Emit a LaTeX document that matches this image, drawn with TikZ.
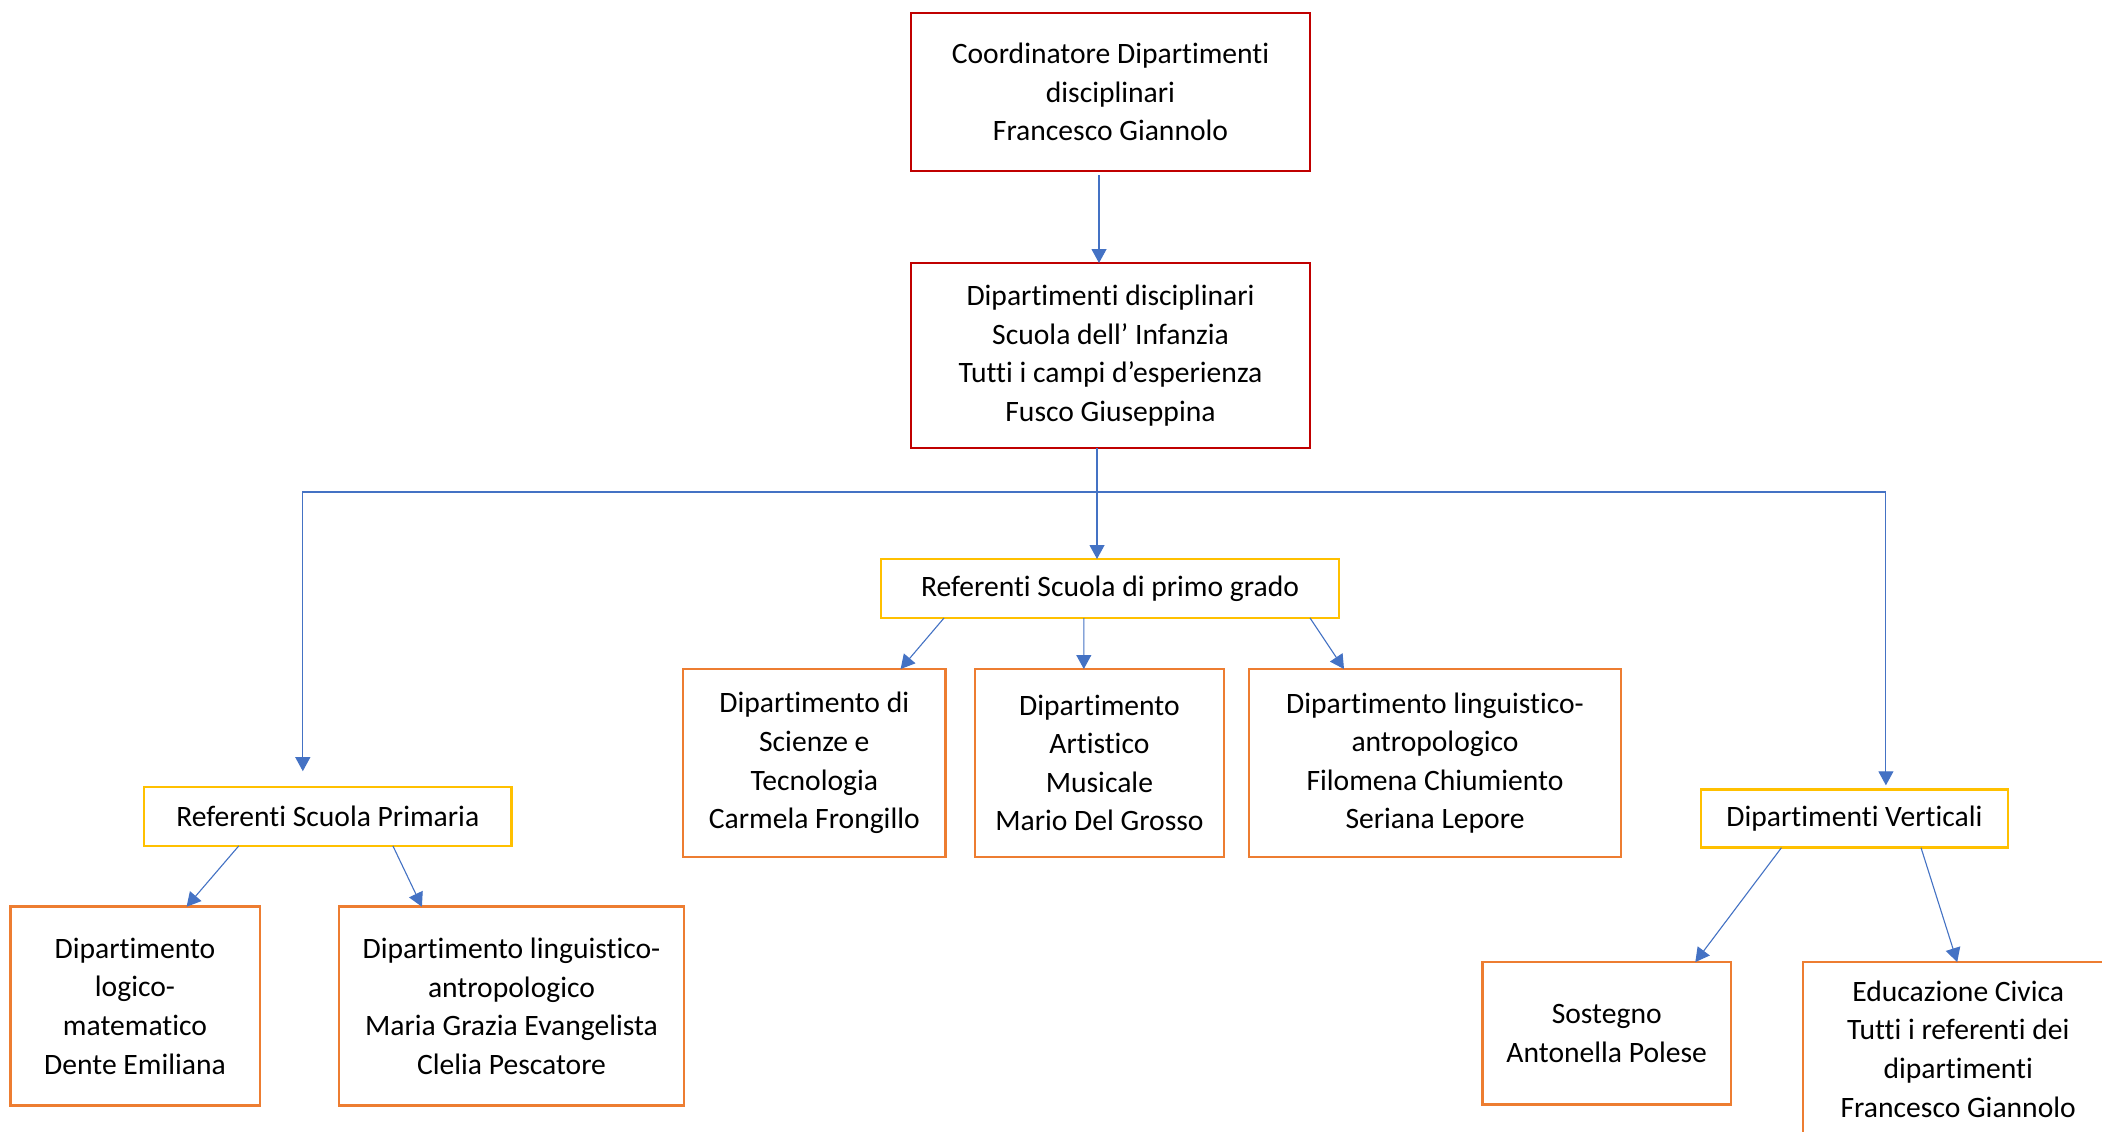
\documentclass[tikz,border=0pt]{standalone}
\usepackage{fontspec}
\setmainfont{Carlito}[Ligatures=NoCommon]
\usetikzlibrary{calc,arrows.meta}
\definecolor{redb}{HTML}{C00000}
\definecolor{yelb}{HTML}{FFC000}
\definecolor{orab}{HTML}{ED7D31}
\definecolor{arrb}{HTML}{4472C4}
\begin{document}
\begin{tikzpicture}[x=0.5pt,y=-0.5pt,
  sz/.style 2 args={minimum width=#1*0.5pt,minimum height=#2*0.5pt},
  box/.style={draw,fill=white,align=center,inner sep=0pt,outer sep=0pt,
    font=\fontsize{14.8pt}{19.3pt}\selectfont},
  redbox/.style={box,draw=redb,line width=1.35pt},
  yelbox/.style={box,draw=yelb,line width=1.25pt},
  orabox/.style={box,draw=orab,line width=1.25pt},
  arr/.style={draw=arrb,line width=0.55pt,-{Triangle[width=7.5pt,length=7pt]},arrb}]
\useasboundingbox (0,0) rectangle (2102,1131);
\clip (0,0) rectangle (2102,1131);
\fill[white] (0,0) rectangle (2102,1131);

\node[redbox,sz={399}{158}] (b1) at (1110.5,92)
  {Coordinatore Dipartimenti\\disciplinari\\Francesco Giannolo};
\node[redbox,sz={399}{185}] (b2) at (1110.5,355.5)
  {Dipartimenti disciplinari\\Scuola dell’ Infanzia\\Tutti i campi d’esperienza\\Fusco Giuseppina};

\node[yelbox,sz={458}{59}] (r1) at (1110,588.5)
  {Referenti Scuola di primo grado};
\node[orabox,sz={262.6}{188}] (a) at (814.3,763)
  {Dipartimento di\\Scienze e\\Tecnologia\\Carmela Frongillo};
\node[orabox,sz={248.7}{188}] (b) at (1099.4,763)
  {Dipartimento\\Artistico\\Musicale\\Mario Del Grosso};
\node[orabox,sz={372}{188}] (c) at (1435,763)
  {Dipartimento linguistico-\\antropologico\\Filomena Chiumiento\\Seriana Lepore};

\node[yelbox,sz={367.6}{58.7}] (rp) at (327.8,816.5)
  {Referenti Scuola Primaria};
\node[orabox,sz={249.5}{199}] (d) at (135,1006.2)
  {Dipartimento\\logico-\\matematico\\Dente Emiliana};
\node[orabox,sz={345}{199}] (e) at (511.5,1006.2)
  {Dipartimento linguistico-\\antropologico\\Maria Grazia Evangelista\\Clelia Pescatore};

\node[yelbox,sz={307.3}{58.4}] (dv) at (1854.4,818.5)
  {Dipartimenti Verticali};
\node[orabox,sz={248.6}{142.3}] (s) at (1606.7,1033.2)
  {Sostegno\\Antonella Polese};
\node[orabox,sz={310}{174}] (ec) at (1958.2,1049)
  {Educazione Civica\\Tutti i referenti dei\\dipartimenti\\Francesco Giannolo};

% connectors
\draw[arr] ($(b1.south)+(-11.5,4)$) -- ($(b2.north)+(-11.5,0)$);
\coordinate (j) at (1097,492);
\draw[arr] (b2.south -| j) -- (r1.north -| j);
\draw[arr] (j) -| ($(rp.north)+(-25,-16)$);
\draw[arr] (j) -| ($(dv.north)+(31.5,-4)$);

\draw[arr] ($(r1.south)+(-166,0)$) -- ($(a.north)+(86.3,0)$);
\draw[arr] ($(r1.south)+(-26.2,0)$) -- ($(b.north)+(-15.6,0)$);
\draw[arr] ($(r1.south)+(200,0)$) -- ($(c.north)+(-91,0)$);

\draw[arr] ($(rp.south)+(-89,0)$) -- ($(d.north)+(51.6,0)$);
\draw[arr] ($(rp.south)+(65.1,0)$) -- ($(e.north)+(-89.6,0)$);

\draw[arr] ($(dv.south)+(-73,0)$) -- ($(s.north)+(88.6,0)$);
\draw[arr] ($(dv.south)+(66.6,0)$) -- ($(ec.north)+(-1,0)$);
\end{tikzpicture}
\end{document}
